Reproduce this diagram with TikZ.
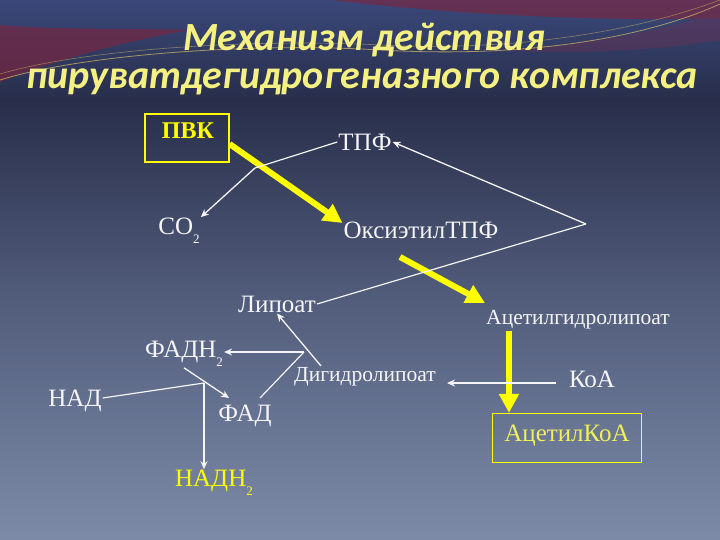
\documentclass[tikz,border=0pt]{standalone}
\usepackage{fontspec}
\setmainfont{Liberation Serif}
\newfontfamily\titlefont{Carlito}
\usetikzlibrary{arrows.meta}
\definecolor{bgtop}{RGB}{58,72,122}
\definecolor{bgdark}{RGB}{40,46,74}
\definecolor{bgmid}{RGB}{82,93,124}
\definecolor{bgbot}{RGB}{124,138,168}
\definecolor{ttl}{RGB}{245,240,130}
\definecolor{yel}{RGB}{255,255,0}
\definecolor{txt}{RGB}{245,245,245}
\definecolor{swred}{RGB}{130,35,60}
\definecolor{gold}{RGB}{210,180,100}
\newcommand{\lowsub}[1]{\raisebox{-0.35em}{\fontsize{13}{14}\selectfont #1}}
\tikzset{
  lbl/.style={text=txt, font=\fontsize{25}{27}\selectfont, inner sep=1pt},
  slbl/.style={text=txt, font=\fontsize{21.5}{23}\selectfont, inner sep=1pt},
  ylbl/.style={text=yel, font=\fontsize{25}{27}\selectfont, inner sep=1pt},
  yarrow/.style={draw=yel, line width=6pt, -{Triangle[length=19pt,width=19pt]}},
  warrow/.style={draw=txt, line width=1.3pt, -{Stealth[length=8pt,width=7pt]}},
  wline/.style={draw=txt, line width=1.2pt},
  ybox/.style={draw=yel, line width=1.2pt, fill=none},
  ttlstyle/.style={text=ttl, font=\titlefont\bfseries\itshape\fontsize{40}{44}\selectfont},
}
\begin{document}
\begin{tikzpicture}[x=1pt,y=-1pt]
\useasboundingbox (0,0) rectangle (720,540);
% background
\shade[top color=bgtop, bottom color=bgdark] (0,0) rectangle (720,100);
\shade[top color=bgdark, bottom color=bgmid] (0,100) rectangle (720,300);
\shade[top color=bgmid, bottom color=bgbot] (0,300) rectangle (720,540);
\fill[swred, opacity=0.6] (0,25) .. controls (60,30) and (120,28) .. (190,30)
  .. controls (120,42) and (50,62) .. (0,82) -- cycle;
\fill[swred, opacity=0.6] (330,0) -- (720,0) -- (720,18)
  .. controls (600,22) and (450,14) .. (330,0) -- cycle;
\fill[swred!60!bgtop, opacity=0.5] (500,50) .. controls (600,45) and (680,25) .. (720,12)
  -- (720,40) .. controls (660,50) and (580,55) .. (500,50) -- cycle;
\draw[gold, opacity=0.75, line width=0.8pt] (0,80) .. controls (80,55) and (250,42) .. (380,50) .. controls (520,58) and (640,40) .. (720,4);
\draw[gold, opacity=0.55, line width=0.6pt] (0,74) .. controls (80,50) and (250,38) .. (380,45) .. controls (520,52) and (640,30) .. (720,0);
% title
\node[ttlstyle] (t1) at (364,40) {Механизм действия};
\node[ttlstyle] (t2) at (362,82) {пируватдегидрогеназного комплекса};
% nodes
\node[ybox, minimum width=84pt, minimum height=48pt] (pvkbox) at (187,138) {};
\node[ylbl, font=\bfseries\fontsize{24}{26}\selectfont] (pvk) at (188,131) {ПВК};
\node[lbl] (tpf) at (365,142) {ТПФ};
\node[lbl] (co2) at (179,231) {CO\lowsub{2}};
\node[lbl] (oxy) at (421,230) {ОксиэтилТПФ};
\node[lbl] (lip) at (277,304) {Липоат};
\node[slbl] (acl) at (578,320) {Ацетилгидролипоат};
\node[lbl] (fadh) at (184,354) {ФАДН\lowsub{2}};
\node[lbl] (nad) at (75,401) {НАД};
\node[lbl] (fad) at (245,416) {ФАД};
\node[ylbl] (nadh) at (214,483) {НАДН\lowsub{2}};
\node[slbl] (dhl) at (365,377) {Дигидролипоат};
\node[lbl] (koa) at (592,379) {КоА};
\node[ybox, minimum width=149pt, minimum height=49pt] (acoabox) at (567,438) {};
\node[ylbl, text={rgb,255:red,240;green,240;blue,90}] (acoa) at (567,436) {АцетилКоА};
% helper coordinates
\coordinate (br1) at (255,168);
\coordinate (apex) at (586,224);
\coordinate (j1) at (304,352);
\coordinate (dstart) at (321,366);
\coordinate (fadtop) at (260,398);
\coordinate (nj) at (204,383);
% connectors
\draw[yarrow] (pvkbox.east |- 0,144) -- (oxy.west |- 0,223);
\draw[yarrow] (400,257) -- (acl.north west |- 0,303);
\draw[yarrow] (acl.south -| 509,0) -- (acoabox.north -| 509,0);
\draw[wline] (tpf.west) -- (br1);
\draw[warrow] (br1) -- (co2.north east);
\draw[warrow] (apex) -- (tpf.east);
\draw[wline] (apex) -- (lip.east);
\draw[warrow] (dstart) -- (lip.south);
\draw[warrow] (j1) -- (fadh.east |- j1);
\draw[wline] (fadtop) -- (j1);
\draw[warrow] (fadh.south) -- (229,398);
\draw[wline] (nad.east |- 0,398) -- (nj);
\draw[warrow] (nj) -- (nadh.north -| nj);
\draw[warrow] ([xshift=-12pt]koa.west |- 0,383) -- ([xshift=10pt]dhl.east |- 0,383);
\end{tikzpicture}
\end{document}
